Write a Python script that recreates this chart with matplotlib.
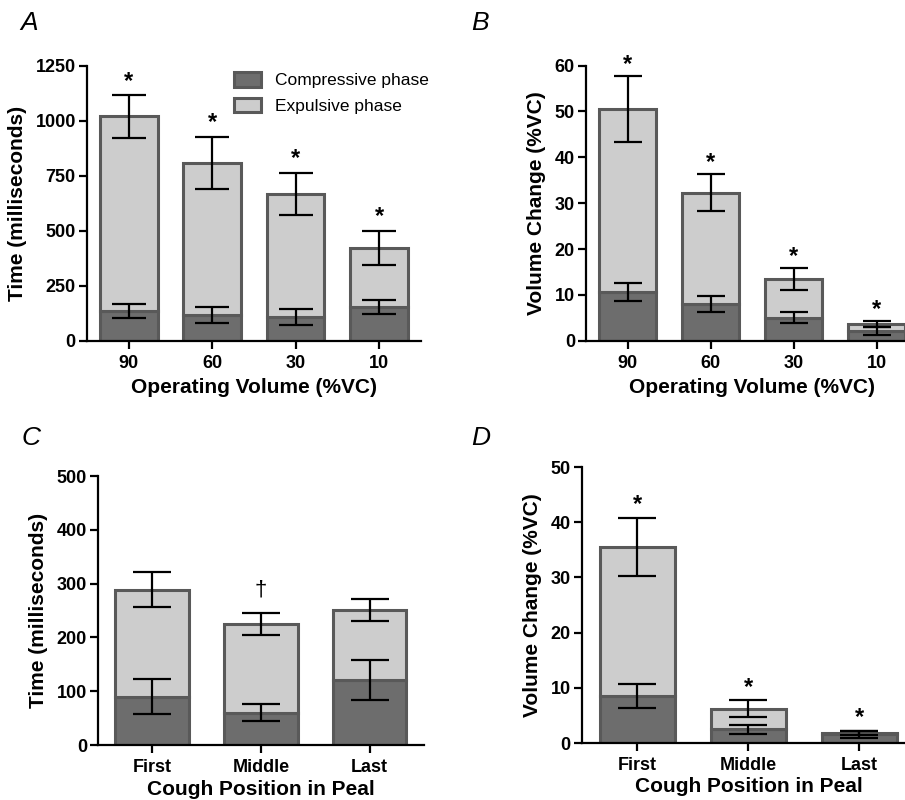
import matplotlib
matplotlib.use('Agg')
import matplotlib.pyplot as plt
from matplotlib.patches import Patch

plt.rcParams['font.family'] = ['Liberation Sans', 'DejaVu Sans']
plt.rcParams['font.weight'] = 'bold'

# panel A / B: operating volume
vol_labels = ['90', '60', '30', '10']
a_comp = [136, 119, 109, 154]
a_comp_err = [32, 36, 35, 30]
a_total = [1019, 809, 668, 422]
a_total_err = [96, 118, 96, 78]

b_comp = [10.6, 8.0, 5.0, 2.2]
b_comp_err = [2.0, 1.7, 1.2, 0.9]
b_total = [50.5, 32.3, 13.5, 3.6]
b_total_err = [7.2, 4.1, 2.4, 0.7]

# panel C / D: cough position in peal
pos_labels = ['First', 'Middle', 'Last']
c_comp = [90, 60, 121]
c_comp_err = [32, 16, 37]
c_total = [289, 225, 251]
c_total_err = [33, 20, 20]

d_comp = [8.5, 2.5, 1.6]
d_comp_err = [2.1, 0.8, 0.65]
d_total = [35.5, 6.2, 1.8]
d_total_err = [5.2, 1.5, 0.3]

a_marks = ['*', '*', '*', '*']
b_marks = ['*', '*', '*', '*']
c_marks = ['', '\u2020', '']
d_marks = ['*', '*', '*']

dark = '#6d6d6d'
light = '#cdcdcd'
edge = '#595959'

fig = plt.figure(figsize=(9.05, 8), dpi=100)


def panel(rect, labels, comp, comp_err, total, total_err, marks, ylim, yticks,
          ylabel, xlabel, capsize, width, xpad, star_off):
    ax = fig.add_axes(rect)
    x = list(range(len(labels)))
    expl = [t - c for t, c in zip(total, comp)]
    ax.bar(x, comp, width=width, color=dark, edgecolor=edge, linewidth=2.2,
           zorder=2, label='Compressive phase')
    ax.bar(x, expl, bottom=comp, width=width, color=light, edgecolor=edge,
           linewidth=2.2, zorder=2, label='Expulsive phase')
    ax.errorbar(x, comp, yerr=comp_err, fmt='none', ecolor='black',
                elinewidth=1.6, capsize=capsize, capthick=1.6, zorder=3)
    ax.errorbar(x, total, yerr=total_err, fmt='none', ecolor='black',
                elinewidth=1.6, capsize=capsize, capthick=1.6, zorder=3)
    for xi, t, e, m in zip(x, total, total_err, marks):
        if not m:
            continue
        if m == '*':
            ax.annotate(m, (xi, t + e), xytext=(0, star_off),
                        textcoords='offset points', ha='center', va='baseline',
                        fontsize=17, fontweight='bold')
        else:
            ax.annotate(m, (xi, t + e), xytext=(0, 13), textcoords='offset points',
                        ha='center', va='baseline', fontsize=16,
                        fontweight='normal')
    ax.set_xlim(-0.5, len(labels) - 0.5)
    ax.set_ylim(*ylim)
    ax.set_yticks(yticks)
    ax.set_xticks(x)
    ax.set_xticklabels(labels)
    for s in ['top', 'right']:
        ax.spines[s].set_visible(False)
    for s in ['left', 'bottom']:
        ax.spines[s].set_linewidth(1.6)
    ax.tick_params(width=1.6, length=6, labelsize=13, pad=2)
    ax.tick_params(axis='x', pad=4)
    ax.set_ylabel(ylabel, fontsize=15, fontweight='bold', labelpad=6)
    ax.set_xlabel(xlabel, fontsize=15, fontweight='bold', labelpad=xpad)
    return ax


ax_a = panel([0.0961, 0.574, 0.369, 0.344], vol_labels, a_comp, a_comp_err,
             a_total, a_total_err, a_marks, (0, 1250), [0, 250, 500, 750, 1000, 1250],
             'Time (milliseconds)', 'Operating Volume (%VC)', 12, 0.69, 4.5, 5.5)
ax_b = panel([0.6475, 0.574, 0.367, 0.344], vol_labels, b_comp, b_comp_err,
             b_total, b_total_err, b_marks, (0, 60), [0, 10, 20, 30, 40, 50, 60],
             'Volume Change (%VC)', 'Operating Volume (%VC)', 10, 0.69, 4.5, 3.5)
ax_c = panel([0.1083, 0.06875, 0.360, 0.336], pos_labels, c_comp, c_comp_err,
             c_total, c_total_err, c_marks, (0, 500), [0, 100, 200, 300, 400, 500],
             'Time (milliseconds)', 'Cough Position in Peal', 13.5, 0.68, 3, 5)
ax_d = panel([0.643, 0.07125, 0.368, 0.345], pos_labels, d_comp, d_comp_err,
             d_total, d_total_err, d_marks, (0, 50), [0, 10, 20, 30, 40, 50],
             'Volume Change (%VC)', 'Cough Position in Peal', 13.5, 0.675, 2, 5)

handles = [Patch(facecolor=dark, edgecolor=edge, linewidth=2.2),
           Patch(facecolor=light, edgecolor=edge, linewidth=2.2)]
ax_a.legend(handles, ['Compressive phase', 'Expulsive phase'], loc='upper left',
            bbox_to_anchor=(0.405, 1.02), frameon=False,
            prop={'size': 12.5, 'weight': 'normal'}, handlelength=1.55,
            handleheight=0.9, handletextpad=0.8, labelspacing=0.55, borderpad=0.2)

for lab, (fx, fy) in zip(['A', 'B', 'C', 'D'],
                         [(0.022, 0.971), (0.521, 0.971), (0.024, 0.453), (0.521, 0.452)]):
    fig.text(fx, fy, lab, fontsize=19, fontstyle='italic', fontweight='normal',
             ha='left', va='center')

fig.savefig('out.png', dpi=100)
